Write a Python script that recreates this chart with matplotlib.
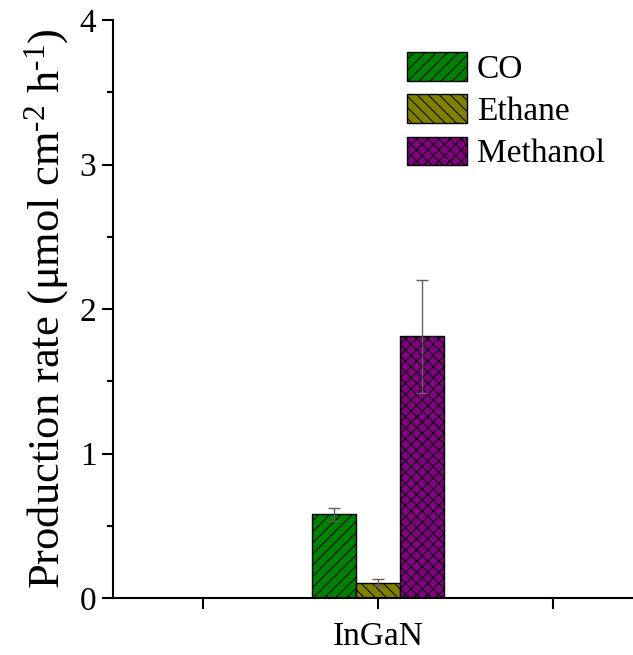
import matplotlib.pyplot as plt
import numpy as np

plt.rcParams['font.family'] = ['Liberation Serif', 'DejaVu Serif']
plt.rcParams['mathtext.fontset'] = 'custom'
plt.rcParams['mathtext.rm'] = 'Liberation Serif'
plt.rcParams['mathtext.it'] = 'Liberation Serif:italic'
plt.rcParams['hatch.linewidth'] = 0.7

# production rates on InGaN
products = ['CO', 'Ethane', 'Methanol']
rates = [0.58, 0.105, 1.81]
errors = [0.045, 0.025, 0.39]
colors = ['#008000', '#808000', '#800080']
hatches = ['///', '\\\\\\', 'xxx']
samples = ['', 'InGaN', '']

fig = plt.figure(figsize=(6.33, 6.55), dpi=100)
ax = fig.add_axes([0.1785, 0.087, 0.8215, 0.8824])

w = 0.25
for i, p in enumerate(products):
    ax.bar(1 + (i - 1) * w, rates[i], w, color=colors[i], hatch=hatches[i],
           edgecolor='black', linewidth=1, label=p,
           yerr=errors[i], capsize=4.5,
           error_kw=dict(ecolor='#606060', elinewidth=1, capthick=1))

ax.set_xlim(-0.514, 2.457)
ax.set_ylim(0, 4)
ax.set_xticks([0, 1, 2])
ax.set_xticklabels(samples)
ax.set_yticks([0, 1, 2, 3, 4])
ax.set_yticks(np.arange(0.5, 4, 1), minor=True)

ax.spines['top'].set_visible(False)
ax.spines['right'].set_visible(False)
ax.spines['left'].set_linewidth(1.5)
ax.spines['bottom'].set_linewidth(1.5)
ax.tick_params(axis='both', which='major', direction='out', length=8, width=1.5,
               labelsize=24, pad=4)
ax.tick_params(axis='x', which='major', pad=9)
ax.tick_params(axis='y', which='minor', direction='out', length=4, width=1.5)

ax.set_ylabel(r'Production rate (μmol cm$^{\text{-}2}$ h$^{\text{-}1}$)', fontsize=32, labelpad=6)

ax.legend(loc='upper left', bbox_to_anchor=(0.533, 0.973), frameon=False, fontsize=24,
          handlelength=1.8, handleheight=0.95, handletextpad=0.3, labelspacing=0.28,
          borderpad=0)

fig.savefig('out.png', dpi=100)
